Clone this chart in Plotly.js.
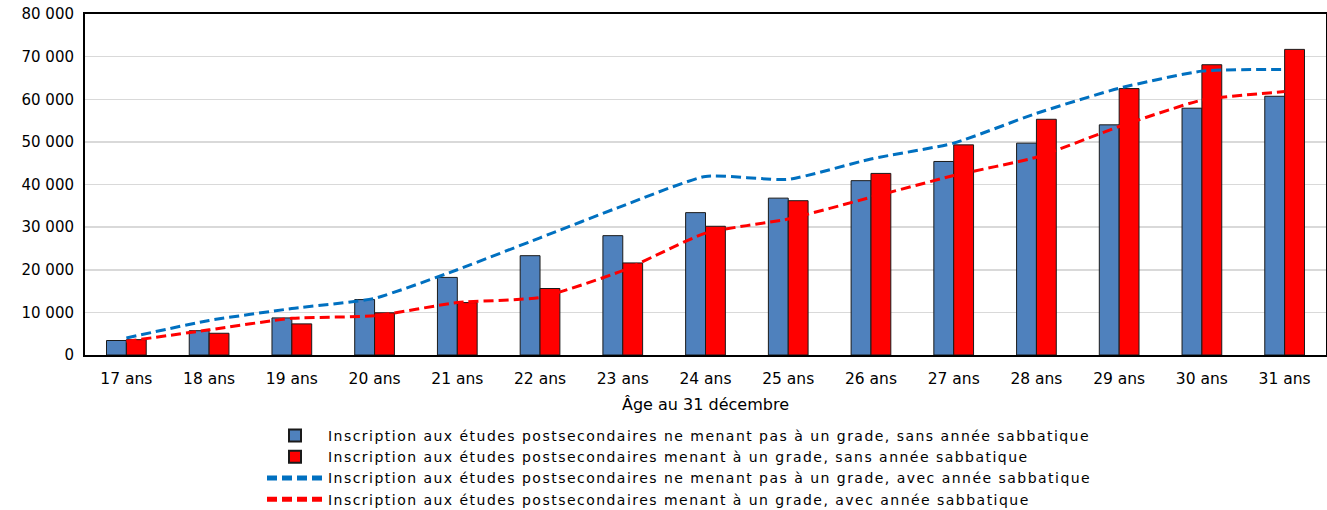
<!DOCTYPE html>
<html><head><meta charset="utf-8">
<script src="https://cdn.plot.ly/plotly-3.0.1.min.js"></script>
<style>body{margin:0;background:#fff}#c{width:1327px;height:510px}
#c .legendtext{letter-spacing:1.47px}
#c .legend .scrollbox, #c .legend g{clip-path:none !important}</style>
</head><body><div id="c"></div>
<script>
const categories = ["17 ans","18 ans","19 ans","20 ans","21 ans","22 ans","23 ans","24 ans","25 ans","26 ans","27 ans","28 ans","29 ans","30 ans","31 ans"];
const nonGradeNoGap = [3400,5700,8700,13000,18200,23300,28000,33400,36800,40900,45400,49700,54000,57900,60700];
const gradeNoGap = [3600,5100,7300,9900,12300,15600,21600,30200,36200,42600,49300,55300,62500,68100,71700];
const nonGradeGap = [4000,8100,10900,13300,20000,27500,35000,41900,41200,46000,49700,56700,62600,66600,67000];
const gradeGap = [3200,5900,8600,9200,12300,13500,19800,28600,31900,37000,42100,46400,53600,59800,61800];
const names = [
 "Inscription aux études postsecondaires ne menant pas à un grade, sans année sabbatique",
 "Inscription aux études postsecondaires menant à un grade, sans année sabbatique",
 "Inscription aux études postsecondaires ne menant pas à un grade, avec année sabbatique",
 "Inscription aux études postsecondaires menant à un grade, avec année sabbatique"
];
const traces = [
 {type:'bar', x:categories, y:nonGradeNoGap, name:names[0], marker:{color:'#4F81BD', line:{color:'#1a1a1a', width:1}}},
 {type:'bar', x:categories, y:gradeNoGap, name:names[1], marker:{color:'#FF0000', line:{color:'#1a1a1a', width:1}}},
 {type:'scatter', mode:'lines', x:categories, y:nonGradeGap, name:names[2], line:{color:'#0070C0', width:3, dash:'10px,5px', shape:'spline', smoothing:0.5}},
 {type:'scatter', mode:'lines', x:categories, y:gradeGap, name:names[3], line:{color:'#FF0000', width:3, dash:'10px,5px', shape:'spline', smoothing:0.5}}
];
const layout = {
 width:1327, height:510,
 margin:{l:85, r:1, t:14, b:155, autoexpand:false},
 font:{family:'"DejaVu Sans", Verdana, sans-serif', size:15, color:'#000'},
 separators:', ',
 barmode:'group', bargap:0.52, bargroupgap:0,
 plot_bgcolor:'#fff', paper_bgcolor:'#fff',
 showlegend:true,
 legend:{orientation:'v', x:(262-85)/1241, xanchor:'left', y:-(420-355)/341, yanchor:'top', font:{size:14}, tracegroupgap:0, itemwidth:56, itemsizing:'constant', bgcolor:'rgba(0,0,0,0)'},
 xaxis:{title:{text:'Âge au 31 décembre', standoff:12, font:{size:16}}, showline:true, linecolor:'#000', linewidth:2, mirror:true, ticks:'', tickfont:{size:15.5}, ticklabelstandoff:8},
 yaxis:{range:[0,80000], dtick:10000, tickformat:',d', showgrid:true, gridcolor:'#d9d9d9', gridwidth:1.5, showline:true, linecolor:'#000', linewidth:2, mirror:true, ticks:'', tickfont:{size:15}, ticklabelstandoff:6, zeroline:false}
};
Plotly.newPlot('c', traces, layout, {displayModeBar:false, staticPlot:true});
</script></body></html>
